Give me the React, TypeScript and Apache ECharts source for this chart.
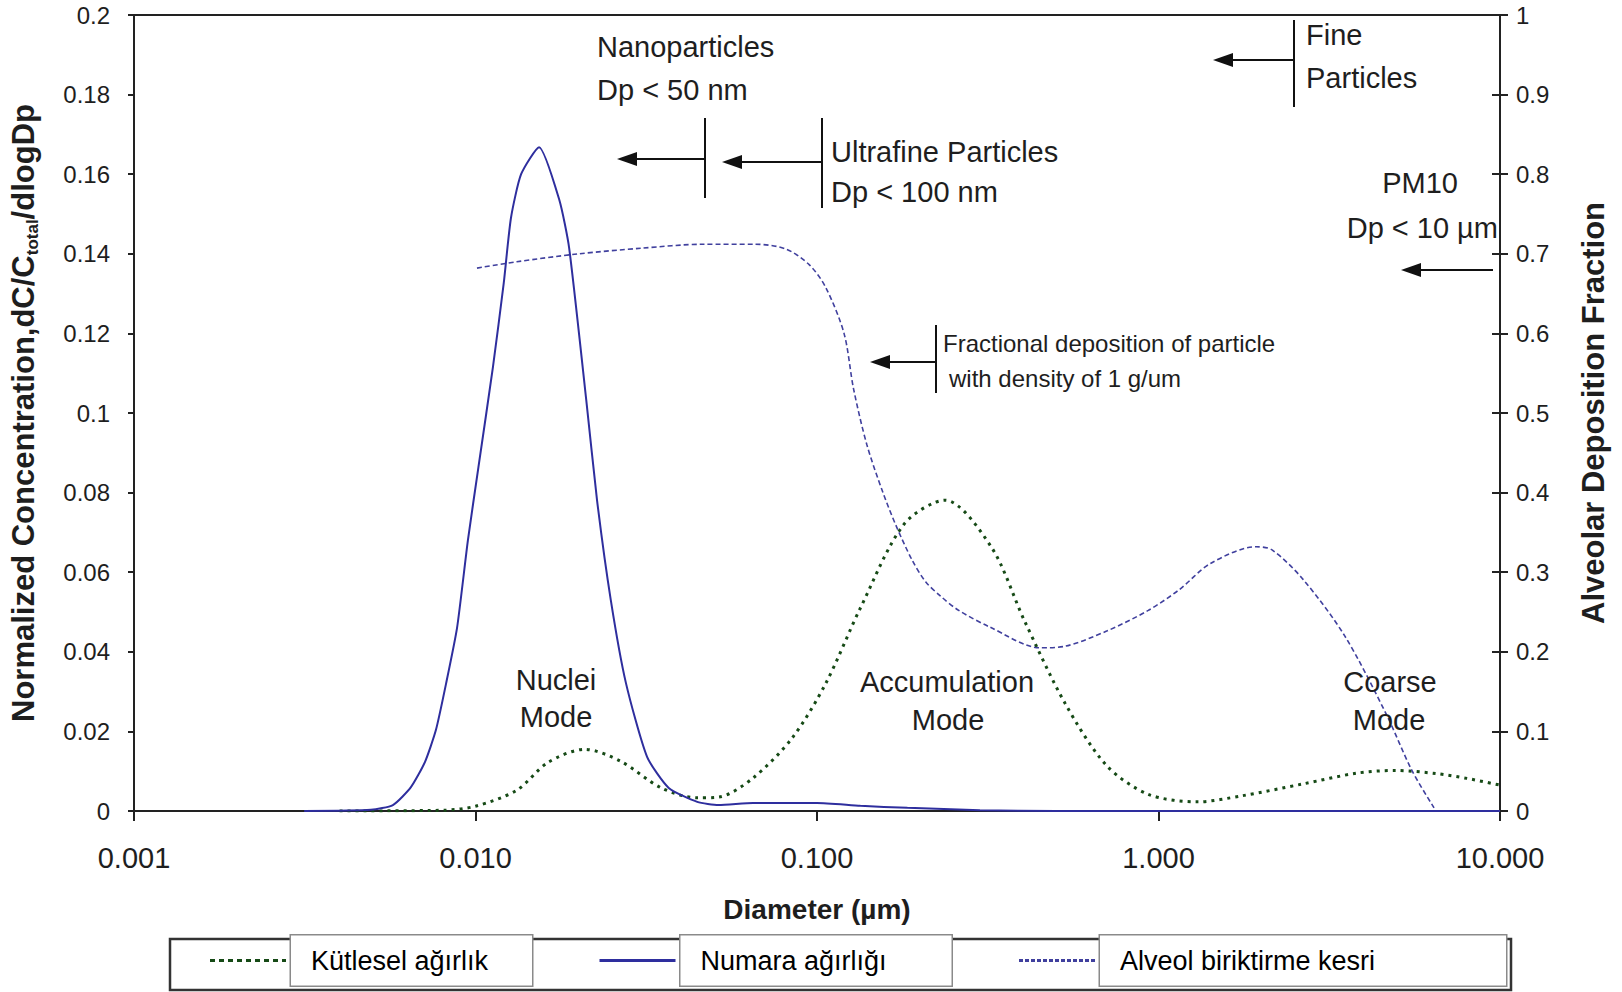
import React, { useEffect, useRef } from 'react';
import * as echarts from 'echarts';

const FONT = '"Liberation Sans", Arial, Helvetica, sans-serif';
const INK = '#1e1e1e';

const SERIES_NAMES = ['Kütlesel ağırlık', 'Numara ağırlığı', 'Alveol biriktirme kesri'];

// Mass-weighted distribution (left axis)
const massDp = [0.004, 0.0081, 0.01, 0.0132, 0.0163, 0.0209, 0.0266, 0.035, 0.0446, 0.0516, 0.065, 0.0845, 0.106, 0.1345, 0.18, 0.237, 0.324, 0.404, 0.533, 0.705, 0.933, 1.3, 1.75, 2.65, 3.8, 4.93, 6.5, 8, 10];
const massVal = [0, 0.0002, 0.0012, 0.0052, 0.0122, 0.0155, 0.0125, 0.0058, 0.0033, 0.0035, 0.0083, 0.0183, 0.032, 0.0513, 0.0721, 0.0781, 0.0663, 0.048, 0.027, 0.0114, 0.0042, 0.0023, 0.0038, 0.0068, 0.0095, 0.0102, 0.0094, 0.0082, 0.0065];

// Number-weighted distribution (left axis)
const numDp = [0.00315, 0.00494, 0.00573, 0.00647, 0.00711, 0.00766, 0.0082, 0.00883, 0.0095, 0.0102, 0.01125, 0.0121, 0.0127, 0.0136, 0.01535, 0.0176, 0.0188, 0.0211, 0.0227, 0.0249, 0.0276, 0.0318, 0.0368, 0.0446, 0.0515, 0.065, 0.1, 0.134, 0.184, 0.3, 0.5, 10];
const numVal = [0, 0.0003, 0.0015, 0.006, 0.0123, 0.0204, 0.032, 0.046, 0.068, 0.0864, 0.1116, 0.1327, 0.149, 0.16, 0.1668, 0.1535, 0.1415, 0.1033, 0.078, 0.053, 0.032, 0.0136, 0.0058, 0.0023, 0.0015, 0.002, 0.002, 0.0013, 0.0008, 0.0002, 0, 0];

// Alveolar deposition fraction (right axis)
const depDp = [0.0101, 0.0132, 0.0201, 0.0305, 0.0464, 0.0658, 0.0811, 0.095, 0.106, 0.12, 0.128, 0.14, 0.156, 0.171, 0.19, 0.208, 0.23, 0.259, 0.321, 0.45, 0.533, 0.705, 0.933, 1.15, 1.42, 1.93, 2.15, 2.65, 3.51, 4.64, 5.52, 6.41];
const depVal = [0.682, 0.69, 0.7, 0.707, 0.712, 0.712, 0.706, 0.686, 0.658, 0.6, 0.53, 0.46, 0.4, 0.357, 0.315, 0.288, 0.27, 0.2525, 0.231, 0.205, 0.207, 0.226, 0.252, 0.278, 0.311, 0.332, 0.328, 0.291, 0.22, 0.122, 0.051, 0.004];

const xTickLabels = ['0.001', '0.010', '0.100', '1.000', '10.000'];
const leftTickLabels = ['0', '0.02', '0.04', '0.06', '0.08', '0.1', '0.12', '0.14', '0.16', '0.18', '0.2'];
const rightTickLabels = ['0', '0.1', '0.2', '0.3', '0.4', '0.5', '0.6', '0.7', '0.8', '0.9', '1'];

const legendBoxWidths = [241, 271, 406];

const zip = (a: number[], b: number[]) => a.map((x, i) => [x, b[i]]);

const ICON_W = 76;
const ICON_H = 3;
function dashIcon(seg: number, gap: number) {
  let d = '';
  for (let x = 0; x < ICON_W; x += seg + gap) {
    const w = Math.min(seg, ICON_W - x);
    d += `M${x},0h${w}v${ICON_H}h${-w}z`;
  }
  return 'path://' + d;
}

function vbar(x: number, y1: number, y2: number) {
  return { type: 'line', shape: { x1: x, y1, x2: x, y2 }, style: { stroke: '#111', lineWidth: 2 } };
}
function arrow(xFrom: number, xTip: number, y: number) {
  return [
    { type: 'line', shape: { x1: xFrom, y1: y, x2: xTip + 16, y2: y }, style: { stroke: '#111', lineWidth: 2 } },
    { type: 'polygon', shape: { points: [[xTip, y], [xTip + 20, y - 7], [xTip + 20, y + 7]] }, style: { fill: '#111' } },
  ];
}
function txt(text: string, x: number, y: number, size: number, align = 'left') {
  return {
    type: 'text', x, y, z: 10,
    style: { text, fontSize: size, fontFamily: FONT, fill: INK, align, verticalAlign: 'middle' },
  };
}

export default function App() {
  const ref = useRef<HTMLDivElement>(null);
  useEffect(() => {
    document.body.style.margin = '0';
    const chart = echarts.init(ref.current!, null, { renderer: 'svg' });
    const icons = [dashIcon(5, 4), dashIcon(ICON_W, 0), dashIcon(4, 2)];
    const option: any = {
      animation: false,
      backgroundColor: '#fff',
      grid: { left: 134, right: 122, top: 15, bottom: 181, show: true, borderColor: '#222', borderWidth: 2, backgroundColor: 'transparent' },
      xAxis: {
        type: 'log', logBase: 10, min: 0.001, max: 10,
        name: 'Diameter (µm)', nameLocation: 'middle', nameGap: 84,
        nameTextStyle: { fontSize: 28, fontWeight: 'bold', fontFamily: FONT, color: INK },
        axisLine: { show: true, lineStyle: { color: '#222', width: 2 } },
        axisTick: { show: true, inside: false, length: 10, lineStyle: { color: '#222', width: 2 } },
        axisLabel: {
          fontSize: 29, fontFamily: FONT, color: INK, margin: 32,
          formatter: (v: number) => xTickLabels[Math.round(Math.log10(v)) + 3] ?? v.toFixed(3),
        },
        splitLine: { show: false },
        minorTick: { show: false },
      },
      yAxis: [
        {
          type: 'value', min: 0, max: 0.2, interval: 0.02, position: 'left',
          name: '{a|Normalized Concentration,dC/C}{s|total}{a|/dlogDp}',
          nameLocation: 'middle', nameGap: 93, nameRotate: 90,
          nameTextStyle: {
            fontFamily: FONT, color: INK,
            rich: {
              a: { fontSize: 31, fontWeight: 'bold', fontFamily: FONT, color: INK, lineHeight: 35 },
              s: { fontSize: 17, fontWeight: 'bold', fontFamily: FONT, color: INK, verticalAlign: 'bottom', lineHeight: 24 },
            },
          },
          axisLine: { show: true, lineStyle: { color: '#222', width: 2 } },
          axisTick: { show: true, inside: false, length: 6, lineStyle: { color: '#222', width: 2 } },
          axisLabel: {
            fontSize: 24, fontFamily: FONT, color: INK, margin: 24,
            formatter: (v: number) => leftTickLabels[Math.round(v / 0.02)] ?? String(v),
          },
          splitLine: { show: false },
        },
        {
          type: 'value', min: 0, max: 1, interval: 0.1, position: 'right',
          name: 'Alveolar Deposition Fraction', nameLocation: 'middle', nameGap: 78, nameRotate: 90,
          nameTextStyle: { fontSize: 31, fontWeight: 'bold', fontFamily: FONT, color: INK },
          axisLine: { show: true, lineStyle: { color: '#222', width: 2 } },
          axisTick: { show: true, inside: false, length: 8, lineStyle: { color: '#222', width: 2 } },
          axisLabel: {
            fontSize: 24, fontFamily: FONT, color: INK, margin: 16,
            formatter: (v: number) => rightTickLabels[Math.round(v * 10)] ?? String(v),
          },
          splitLine: { show: false },
        },
        {
          type: 'value', min: 0, max: 1, interval: 0.1, position: 'right',
          axisLine: { show: false },
          axisTick: { show: true, inside: true, length: 8, lineStyle: { color: '#222', width: 2 } },
          axisLabel: { show: false },
          splitLine: { show: false },
        },
      ],
      legend: {
        left: 210, top: 934, padding: 0, itemWidth: ICON_W, itemHeight: ICON_H, itemGap: 66,
        selectedMode: false, symbolKeepAspect: false,
        textStyle: {
          fontSize: 27, fontFamily: FONT, color: '#000',
          height: 50, lineHeight: 50,
          backgroundColor: '#fff', borderColor: '#8a8a8a', borderWidth: 1.5,
          padding: [0, 0, 0, 20],
        },
        data: SERIES_NAMES.map((name, i) => ({
          name,
          icon: icons[i],
          textStyle: { width: legendBoxWidths[i] - 20 },
        })),
      },
      series: [
        {
          name: SERIES_NAMES[0], type: 'line', yAxisIndex: 0, data: zip(massDp, massVal),
          smooth: 0.3, symbol: 'none', z: 3,
          lineStyle: { color: '#164a16', width: 3, type: [3, 5] },
          itemStyle: { color: '#164a16' },
        },
        {
          name: SERIES_NAMES[1], type: 'line', yAxisIndex: 0, data: zip(numDp, numVal),
          smooth: 0.2, symbol: 'none', z: 4,
          lineStyle: { color: '#2e2e9e', width: 2 },
          itemStyle: { color: '#2e2e9e' },
        },
        {
          name: SERIES_NAMES[2], type: 'line', yAxisIndex: 1, data: zip(depDp, depVal),
          smooth: 0.3, symbol: 'none', z: 3,
          lineStyle: { color: '#40409e', width: 1.6, type: [5, 3] },
          itemStyle: { color: '#40409e' },
        },
      ],
      graphic: [
        { type: 'rect', z: 1, shape: { x: 170, y: 939, width: 1341, height: 51 }, style: { fill: '#fff', stroke: '#333', lineWidth: 2.5 } },
        vbar(705, 118, 198), ...arrow(705, 617, 159),
        vbar(822, 118, 208), ...arrow(822, 722, 162),
        vbar(1294, 20, 107), ...arrow(1294, 1213, 60),
        ...arrow(1493, 1401, 270),
        vbar(936, 325, 393), ...arrow(936, 870, 362),
        txt('Nanoparticles', 597, 47, 29),
        txt('Dp < 50 nm', 597, 90, 29),
        txt('Ultrafine Particles', 831, 152, 29),
        txt('Dp < 100 nm', 831, 192, 29),
        txt('Fine', 1306, 35, 29),
        txt('Particles', 1306, 78, 29),
        txt('PM10', 1420, 183, 29, 'center'),
        txt('Dp < 10 µm', 1498, 228, 29, 'right'),
        txt('Fractional deposition of particle', 943, 343, 24),
        txt('with density of 1 g/um', 949, 378, 24),
        txt('Nuclei', 556, 680, 29, 'center'),
        txt('Mode', 556, 717, 29, 'center'),
        txt('Accumulation', 947, 682, 29, 'center'),
        txt('Mode', 948, 720, 29, 'center'),
        txt('Coarse', 1390, 682, 29, 'center'),
        txt('Mode', 1389, 720, 29, 'center'),
      ],
    };
    chart.setOption(option);
    return () => chart.dispose();
  }, []);
  return <div ref={ref} style={{ width: 1622, height: 992 }} />;
}
